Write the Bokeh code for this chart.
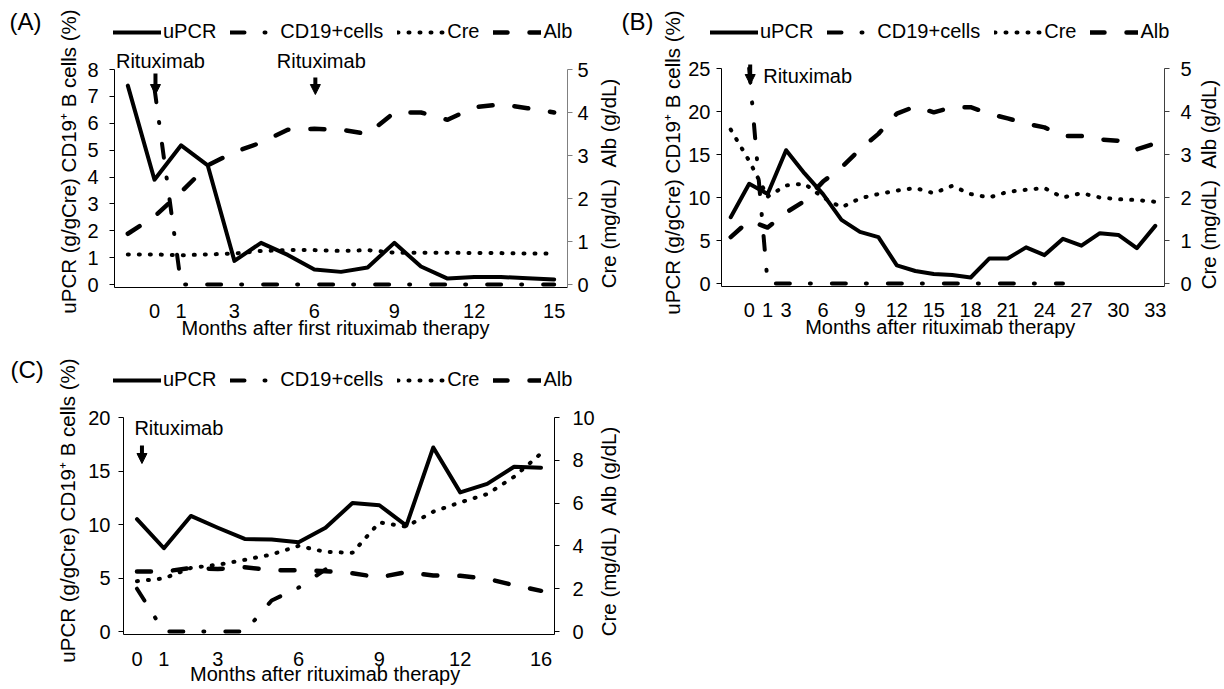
import numpy as np
from bokeh.plotting import figure
from bokeh.models import (ColumnDataSource, Range1d, LinearAxis, FixedTicker,
                          Legend, LegendItem, Label, Arrow, NormalHead)
from bokeh.layouts import column, row
from bokeh.embed import file_html
from bokeh.resources import INLINE

NaN = float("nan")
FONT = "Liberation Sans"
NB = "\u00a0"

# ---------------- Panel A ----------------
months_A = [-1, 0, 1, 2, 3, 4, 5, 6, 7, 8, 9, 10, 11, 12, 13, 14, 15]
tick_months_A = [0, 1, 3, 6, 9, 12, 15]
upcr_A = [7.4, 3.9, 5.18, 4.43, 0.88, 1.55, 1.1, 0.56, 0.47, 0.63, 1.55, 0.67, 0.22, 0.28, 0.28, 0.23, 0.19]
cd19_A = [NaN, 7.3, 0, 0, 0, 0, 0, 0, 0, 0, 0, 0, 0, 0, 0, 0, 0]
cre_A = [0.70, 0.70, 0.68, 0.70, 0.72, 0.78, 0.80, 0.80, 0.78, 0.80, 0.74, 0.74, 0.74, 0.73, 0.73, 0.72, 0.72]
alb_A = [1.18, 1.58, 2.15, 2.77, 3.08, 3.3, 3.6, 3.62, 3.6, 3.5, 4.0, 4.0, 3.83, 4.12, 4.19, 4.1, 4.0]
rituximab_A = [0, 6]
left_ticks_A = [0, 1, 2, 3, 4, 5, 6, 7, 8]
right_ticks_A = [0, 1, 2, 3, 4, 5]

# ---------------- Panel B ----------------
months_B = [-1, 0, 1, 3, 4.5, 6, 7.5, 9, 10.5, 12, 13.5, 15, 16.5, 18, 19.5, 21, 22.5, 24, 25.5, 27, 28.5, 30, 31.5, 33]
tick_months_B = [0, 1, 3, 6, 9, 12, 15, 18, 21, 24, 27, 30, 33]
upcr_B = [7.7, 11.6, 10.4, 15.5, 12.8, 10.4, 7.4, 6.0, 5.4, 2.1, 1.45, 1.1, 1.0, 0.7, 2.9, 2.9, 4.2, 3.3, 5.2, 4.4, 5.85, 5.65, 4.1, 6.7]
cd19_B = [NaN, 25.0, 0, 0, 0, 0, 0, 0, 0, 0, 0, 0, 0, 0, 0, 0, 0, 0, 0, NaN, NaN, NaN, NaN, NaN]
cre_B = [3.58, 2.85, 2.02, 2.28, 2.32, 2.0, 1.77, 1.98, 2.08, 2.16, 2.22, 2.1, 2.27, 2.08, 2.0, 2.13, 2.18, 2.22, 2.0, 2.1, 2.0, 1.96, 1.94, 1.9]
alb_B = [1.08, 1.46, 1.3, 1.65, 1.92, 2.37, 2.7, 3.12, 3.48, 3.95, 4.12, 3.98, 4.1, 4.1, 3.95, 3.84, 3.72, 3.63, 3.43, 3.43, 3.35, 3.32, 3.12, 3.26]
rituximab_B = [0]
left_ticks_B = [0, 5, 10, 15, 20, 25]
right_ticks_B = [0, 1, 2, 3, 4, 5]

# ---------------- Panel C ----------------
months_C = [0, 1, 2, 3, 4, 5, 6, 7, 8, 9, 10, 11, 12, 13, 14, 16]
tick_months_C = [0, 1, 3, 6, 9, 12, 16]
upcr_C = [10.5, 7.78, 10.8, 9.7, 8.65, 8.6, 8.35, 9.7, 12.0, 11.8, 9.9, 17.2, 13.0, 13.8, 15.4, 15.3]
cd19_C = [4.0, 0, 0, 0, 0, 2.9, 4.1, 5.8, NaN, NaN, NaN, NaN, NaN, NaN, NaN, NaN]
cre_C = [2.35, 2.48, 2.97, 3.12, 3.35, 3.6, 4.0, 3.72, 3.68, 5.1, 4.9, 5.6, 6.03, 6.42, 7.23, 8.32]
alb_C = [2.8, 2.8, 2.97, 2.92, 3.0, 2.87, 2.86, 2.82, 2.72, 2.53, 2.78, 2.62, 2.6, 2.47, 2.16, 1.9]
rituximab_C = [0]
left_ticks_C = [0, 5, 10, 15, 20]
right_ticks_C = [0, 2, 4, 6, 8, 10]

LEFT_TITLE = "uPCR (g/gCre) CD19\u207a B cells (%)"
RIGHT_TITLE = "Cre (mg/dL)" + NB + NB + "Alb (g/dL)"
SERIES_NAMES = ["uPCR", "CD19+cells", "Cre", "Alb"]

STYLES = [
    dict(line_color="black", line_width=4, line_join="round", line_cap="round"),
    dict(line_color="black", line_width=4, line_dash="14 20 1 21", line_join="round", line_cap="round"),
    dict(line_color="black", line_width=4, line_dash="1 10", line_cap="round"),
    dict(line_color="black", line_width=4.5, line_dash="14 22", line_join="round", line_cap="round"),
]

HAS_FRAME_ALIGN = "frame_align" in figure.properties()
# without frame_align, Bokeh aligns plot areas in a column; compensate as measured
LEGEND_SHIFT = 0 if HAS_FRAME_ALIGN else 38


def no_align(p):
    if HAS_FRAME_ALIGN:
        p.frame_align = False
    return p


def canvas(x0, y0, w, h):
    """A text-only figure whose plot area is the whole figure, in page pixels."""
    c = figure(width=w, height=h, x_range=Range1d(x0, x0 + w), y_range=Range1d(y0 + h, y0),
               min_border=0, x_axis_type=None, y_axis_type=None,
               output_backend="svg", toolbar_location=None)
    c.outline_line_color = None
    c.background_fill_color = "white"
    c.border_fill_color = "white"
    return no_align(c)


def text(c, x, y, s, size="20px", angle=0, align="center"):
    c.add_layout(Label(x=x, y=y, text=s, text_font=FONT, text_font_size=size,
                       text_align=align, text_baseline="middle", angle=angle,
                       angle_units="deg", text_color="black"))


def legend_canvas(x0, y0, w, h, lx, ltop):
    c = canvas(x0, y0, w, h)
    # legend-only proxies: no visible data
    proxy = ColumnDataSource(data=dict(x=np.array([np.nan, np.nan]), y=np.array([np.nan, np.nan])))
    rs = [c.line("x", "y", source=proxy, **st) for st in STYLES]
    leg = Legend(items=[LegendItem(label=nm, renderers=[r]) for nm, r in zip(SERIES_NAMES, rs)],
                 location=(lx - x0 - LEGEND_SHIFT, (y0 + h) - (ltop + 20)), orientation="horizontal",
                 glyph_width=48, glyph_height=20, label_height=20, label_standoff=2,
                 spacing=14, padding=0, margin=0, border_line_color=None,
                 background_fill_alpha=0, label_text_font=FONT,
                 label_text_font_size="20px", label_text_color="black")
    c.add_layout(leg)
    return c


def body(g, months, tick_months, upcr, cd19, cre, alb, lticks, rticks, ymax_r, s):
    n = len(months)
    L, R, T, B = g["l"], g["r"], g["t"], g["b"]
    FT, FB = g["oy"], g["b"] + 3
    pxx = (R - L) / n
    pyl = (B - T) / g["ymax"]
    pyr = (B - T) / ymax_r

    p = figure(width=g["w"], height=g["h"],
               x_range=Range1d(-0.5, n - 0.5),
               y_range=Range1d(-(FB - B) / pyl, g["ymax"] + (T - FT) / pyl),
               min_border_left=L - g["ox"], min_border_right=g["ox"] + g["w"] - R,
               min_border_top=0, min_border_bottom=g["oy"] + g["h"] - FB,
               output_backend="svg", toolbar_location=None)
    no_align(p)
    p.extra_y_ranges = {"r": Range1d(-(FB - B) / pyr, ymax_r + (T - FT) / pyr)}
    p.outline_line_color = None
    p.grid.visible = False
    p.background_fill_color = "white"
    p.border_fill_color = "white"

    def to_data(ix, iy):
        return -0.5 + (ix - L) / pxx, (B - iy) / pyl

    src = ColumnDataSource(data=dict(
        x=np.arange(n), upcr=np.array(upcr, dtype=float), cd19=np.array(cd19, dtype=float),
        cre=np.array(cre, dtype=float), alb=np.array(alb, dtype=float)))

    p.line("x", "upcr", source=src, **STYLES[0])
    p.line("x", "cd19", source=src, **STYLES[1])
    p.line("x", "cre", source=src, y_range_name="r", **STYLES[2])
    p.line("x", "alb", source=src, y_range_name="r", **STYLES[3])

    xa = p.xaxis[0]
    xa.ticker = FixedTicker(ticks=[months.index(m) for m in tick_months])
    xa.major_label_overrides = {months.index(m): str(m) for m in tick_months}
    xa.major_tick_out = 0
    xa.major_tick_in = 0
    xa.minor_tick_out = 0
    xa.minor_tick_in = 0
    xa.axis_line_color = "black"
    xa.major_label_text_font = FONT
    xa.major_label_text_font_size = "20px"
    xa.major_label_text_color = "black"
    xa.major_label_standoff = s["xstand"]
    xa.axis_label = s["xtitle"]
    xa.axis_label_text_font = FONT
    xa.axis_label_text_font_size = "20px"
    xa.axis_label_text_font_style = "normal"
    xa.axis_label_text_color = "black"
    xa.axis_label_standoff = s["xals"]

    ya = p.yaxis[0]
    ya.bounds = (-(FB - B) / pyl, g["ymax"])
    ya.ticker = FixedTicker(ticks=lticks)
    ya.major_tick_out = 5
    ya.major_tick_in = 0
    ya.minor_tick_out = 0
    ya.minor_tick_in = 0
    ya.axis_line_color = "black"
    ya.major_tick_line_color = "black"
    ya.major_label_text_font = FONT
    ya.major_label_text_font_size = "20px"
    ya.major_label_text_color = "black"
    ya.major_label_standoff = s["lstand"]

    ra = LinearAxis(y_range_name="r", ticker=FixedTicker(ticks=rticks),
                    bounds=(-(FB - B) / pyr, ymax_r))
    ra.major_tick_out = 5
    ra.major_tick_in = 0
    ra.minor_tick_out = 0
    ra.minor_tick_in = 0
    ra.axis_line_color = s["rcolor"]
    ra.major_tick_line_color = s["rcolor"]
    ra.major_label_text_font = FONT
    ra.major_label_text_font_size = "20px"
    ra.major_label_text_color = "black"
    ra.major_label_standoff = s["rstand"]
    p.add_layout(ra, "right")

    for k, m in enumerate(s["rit"]):
        ix = L + (months.index(m) + 0.5) * pxx + s["rit_dx"]
        y0, y1 = s["rit_y"][k]
        xs, ys = to_data(ix, y0)
        _, ye = to_data(ix, y1)
        p.add_layout(Arrow(end=NormalHead(size=10, fill_color="black", line_color="black"),
                           x_start=xs, y_start=ys, x_end=xs, y_end=ye,
                           line_width=4, line_color="black"))
        tdx, ty, al = s["rit_text"][k]
        tx, tyd = to_data(ix + tdx, ty)
        p.add_layout(Label(x=tx, y=tyd, text="Rituximab", text_font=FONT, text_font_size="20px",
                           text_align=al, text_baseline="middle", text_color="black"))
    return p


# ---------------- panel A ----------------
gA = dict(ox=84, oy=48, w=511, h=300, l=112, r=567, t=69, b=284, ymax=8)
sA = dict(xstand=16, xals=-4, xtitle="Months after first rituximab therapy" + NB * 2,
          lstand=11, rcolor="#808080", rstand=5,
          rit=rituximab_A, rit_dx=1, rit_y=[(73, 94), (77, 94)],
          rit_text=[(5, 60, "center"), (6, 60, "center")])
bodyA = body(gA, months_A, tick_months_A, upcr_A, cd19_A, cre_A, alb_A, left_ticks_A, right_ticks_A, 5, sA)
leftA = canvas(0, 0, 84, 348)
text(leftA, 9, 21, "(A)", size="24px", align="left")
text(leftA, 68, 161, LEFT_TITLE, size="20.5px", angle=90)
topA = legend_canvas(84, 0, 511, 48, 113, 23)
rightA = canvas(595, 0, 25, 348)
text(rightA, 608, 183, RIGHT_TITLE, size="20.5px", angle=90)

# ---------------- panel B ----------------
gB = dict(ox=685, oy=48, w=510, h=300, l=721, r=1164, t=68, b=283, ymax=25)
sB = dict(xstand=16, xals=-4, xtitle="Months after rituximab therapy" + NB,
          lstand=6, rcolor="#404040", rstand=11,
          rit=rituximab_B, rit_dx=1, rit_y=[(64, 84)],
          rit_text=[(13, 75, "left")])
bodyB = body(gB, months_B, tick_months_B, upcr_B, cd19_B, cre_B, alb_B, left_ticks_B, right_ticks_B, 5, sB)
leftB = canvas(620, 0, 65, 348)
text(leftB, 621, 21, "(B)", size="24px", align="left")
text(leftB, 672, 162, LEFT_TITLE, size="20.5px", angle=90)
topB = legend_canvas(685, 0, 510, 48, 710, 23)
rightB = canvas(1195, 0, 29, 348)
text(rightB, 1208, 184, RIGHT_TITLE, size="20.5px", angle=90)

# ---------------- panel C ----------------
gC = dict(ox=83, oy=396, w=514, h=293, l=123, r=555, t=417, b=631, ymax=20)
sC = dict(xstand=17, xals=-6, xtitle="Months after rituximab therapy" + NB * 5,
          lstand=8, rcolor="black", rstand=13,
          rit=rituximab_C, rit_dx=5, rit_y=[(445, 463)],
          rit_text=[(37, 427, "center")])
bodyC = body(gC, months_C, tick_months_C, upcr_C, cd19_C, cre_C, alb_C, left_ticks_C, right_ticks_C, 10, sC)
leftC = canvas(0, 348, 83, 341)
text(leftC, 10, 369, "(C)", size="24px", align="left")
text(leftC, 67, 510, LEFT_TITLE, size="20.5px", angle=90)
topC = legend_canvas(83, 348, 514, 48, 113, 371)
rightC = canvas(597, 348, 23, 341)
text(rightC, 608, 531, RIGHT_TITLE, size="20.5px", angle=90)

layout = column(
    row(leftA, column(topA, bodyA), rightA, leftB, column(topB, bodyB), rightB),
    row(leftC, column(topC, bodyC), rightC),
)
open("out.html", "w").write(file_html(layout, INLINE))
